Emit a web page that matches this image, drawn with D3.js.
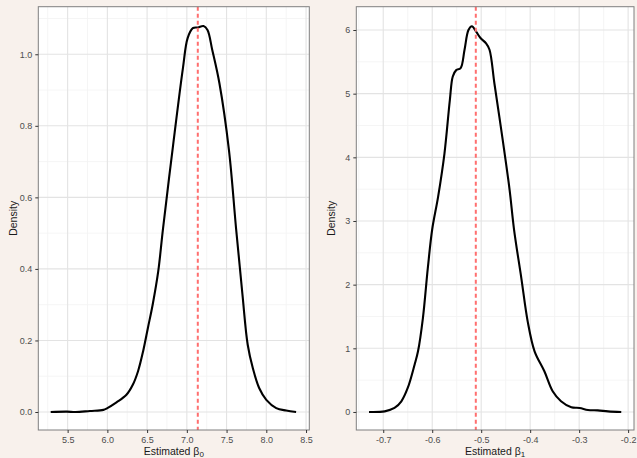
<!DOCTYPE html>
<html lang="en">
  <head>
    <meta charset="UTF-8" />
    <title>Estimated coefficient densities</title>
    <script src="https://d3js.org/d3.v7.min.js"></script>
    <style>
      body {
        margin: 0;
        background: #f8f1ec;
        font-family: 'Liberation Sans', Arial, sans-serif;
      }
      .tick-label {
        font-size: 9px;
        fill: #4d4d4d;
      }
      .axis-title {
        font-size: 10.5px;
        fill: #1a1a1a;
      }
    </style>
  </head>
  <body>
    <svg width="637" height="458"></svg>

    <script>
      // beta0 density
      const b0X = [5.287, 5.49, 5.6, 5.78, 5.95, 6.0, 6.115, 6.24, 6.32, 6.386, 6.45, 6.51, 6.57, 6.64, 6.70, 6.825, 6.95, 7.01, 7.075, 7.14, 7.21, 7.26, 7.32, 7.41, 7.53, 7.62, 7.70, 7.766, 7.83, 7.91, 8.0, 8.125, 8.25, 8.375];
      const b0Y = [0, 0.001, 0, 0.003, 0.006, 0.011, 0.027, 0.048, 0.076, 0.114, 0.17, 0.235, 0.30, 0.393, 0.512, 0.742, 0.96, 1.045, 1.073, 1.075, 1.079, 1.068, 1.012, 0.919, 0.732, 0.512, 0.328, 0.188, 0.123, 0.067, 0.034, 0.011, 0.004, 0];
      // beta1 density
      const b1X = [-0.729, -0.697, -0.677, -0.663, -0.650, -0.636, -0.629, -0.619, -0.609, -0.600, -0.588, -0.575, -0.564, -0.558, -0.551, -0.542, -0.534, -0.526, -0.519, -0.510, -0.501, -0.490, -0.483, -0.473, -0.456, -0.442, -0.433, -0.418, -0.405, -0.391, -0.371, -0.354, -0.337, -0.316, -0.299, -0.282, -0.262, -0.241, -0.214];
      const b1Y = [0, 0.01, 0.063, 0.168, 0.377, 0.743, 0.953, 1.476, 2.26, 2.87, 3.38, 4.06, 4.90, 5.27, 5.37, 5.40, 5.69, 6.0, 6.06, 5.97, 5.87, 5.79, 5.69, 5.16, 4.27, 3.49, 2.87, 2.10, 1.42, 0.953, 0.639, 0.325, 0.168, 0.073, 0.063, 0.031, 0.026, 0.01, 0];

      const b0Mean = 7.138;
      const b1Mean = -0.511;

      const b0XTicks = [5.5, 6.0, 6.5, 7.0, 7.5, 8.0, 8.5];
      const b0YTicks = [0, 0.2, 0.4, 0.6, 0.8, 1.0];
      const b1XTicks = [-0.7, -0.6, -0.5, -0.4, -0.3, -0.2];
      const b1YTicks = [0, 1, 2, 3, 4, 5, 6];

      const svg = d3.select('svg');

      function panel(opt) {
        const g = svg.append('g');
        const x = d3.scaleLinear().domain(opt.xDomain).range([opt.left, opt.right]);
        const y = d3.scaleLinear().domain(opt.yDomain).range([opt.bottom, opt.top]);

        g.append('rect')
          .attr('x', opt.left)
          .attr('y', opt.top)
          .attr('width', opt.right - opt.left)
          .attr('height', opt.bottom - opt.top)
          .attr('fill', 'white');

        // minor grid at midpoints
        const xStep = opt.xTicks[1] - opt.xTicks[0];
        const yStep = opt.yTicks[1] - opt.yTicks[0];
        const xMinor = d3.range(-1, opt.xTicks.length)
          .map((i) => opt.xTicks[0] + (i + 0.5) * xStep)
          .filter((v) => v > opt.xDomain[0] && v < opt.xDomain[1]);
        const yMinor = d3.range(-1, opt.yTicks.length)
          .map((i) => opt.yTicks[0] + (i + 0.5) * yStep)
          .filter((v) => v > opt.yDomain[0] && v < opt.yDomain[1]);

        g.selectAll('.vminor').data(xMinor).enter().append('line')
          .attr('x1', (d) => x(d)).attr('x2', (d) => x(d))
          .attr('y1', opt.top).attr('y2', opt.bottom)
          .attr('stroke', '#f3f3f3').attr('stroke-width', 0.8);
        g.selectAll('.hminor').data(yMinor).enter().append('line')
          .attr('y1', (d) => y(d)).attr('y2', (d) => y(d))
          .attr('x1', opt.left).attr('x2', opt.right)
          .attr('stroke', '#f3f3f3').attr('stroke-width', 0.8);

        g.selectAll('.vmajor').data(opt.xTicks).enter().append('line')
          .attr('x1', (d) => x(d)).attr('x2', (d) => x(d))
          .attr('y1', opt.top).attr('y2', opt.bottom)
          .attr('stroke', '#e3e3e3').attr('stroke-width', 1.1);
        g.selectAll('.hmajor').data(opt.yTicks).enter().append('line')
          .attr('y1', (d) => y(d)).attr('y2', (d) => y(d))
          .attr('x1', opt.left).attr('x2', opt.right)
          .attr('stroke', '#e3e3e3').attr('stroke-width', 1.1);

        // density curve
        const pts = opt.xs.map((v, i) => [v, opt.ys[i]]);
        g.append('path')
          .datum(pts)
          .attr('fill', 'none')
          .attr('stroke', 'black')
          .attr('stroke-width', 2.1)
          .attr('stroke-linejoin', 'round')
          .attr('d', d3.line()
            .x((d) => x(d[0]))
            .y((d) => y(d[1]))
            .curve(d3.curveCatmullRom.alpha(0.5)));

        // mean line
        g.append('line')
          .attr('x1', x(opt.mean)).attr('x2', x(opt.mean))
          .attr('y1', opt.top).attr('y2', opt.bottom)
          .attr('stroke', '#ff6f6f')
          .attr('stroke-width', 2)
          .attr('stroke-dasharray', '4,3');

        // border
        g.append('rect')
          .attr('x', opt.left)
          .attr('y', opt.top)
          .attr('width', opt.right - opt.left)
          .attr('height', opt.bottom - opt.top)
          .attr('fill', 'none')
          .attr('stroke', '#7f7f7f')
          .attr('stroke-width', 1);

        // axes
        const xAxis = g.append('g')
          .attr('transform', `translate(0,${opt.bottom})`)
          .call(d3.axisBottom(x).tickValues(opt.xTicks).tickFormat(opt.xFmt).tickSize(3).tickPadding(4));
        const yAxis = g.append('g')
          .attr('transform', `translate(${opt.left},0)`)
          .call(d3.axisLeft(y).tickValues(opt.yTicks).tickFormat(opt.yFmt).tickSize(3).tickPadding(3));
        [xAxis, yAxis].forEach((a) => {
          a.select('.domain').remove();
          a.selectAll('.tick line').attr('stroke', '#333');
          a.selectAll('.tick text').attr('class', 'tick-label').attr('font-size', null).attr('font-family', null);
        });

        // titles
        g.append('text')
          .attr('class', 'axis-title')
          .attr('transform', 'rotate(-90)')
          .attr('x', -(opt.top + opt.bottom) / 2)
          .attr('y', opt.titleX)
          .attr('text-anchor', 'middle')
          .text('Density');

        const t = g.append('text')
          .attr('class', 'axis-title')
          .attr('x', (opt.left + opt.right) / 2)
          .attr('y', 454.5)
          .attr('text-anchor', 'middle');
        t.append('tspan').text('Estimated \u03b2');
        t.append('tspan').attr('dy', 2).attr('font-size', '8px').text(opt.sub);
      }

      panel({
        left: 38.3, right: 309.3, top: 6.7, bottom: 430,
        xDomain: [5.131, 8.541], yDomain: [-0.0503, 1.133],
        xTicks: b0XTicks, yTicks: b0YTicks,
        xFmt: d3.format('.1f'), yFmt: d3.format('.1f'),
        xs: b0X, ys: b0Y, mean: b0Mean, sub: '0', titleX: 17
      });

      panel({
        left: 356.3, right: 634, top: 6.7, bottom: 430,
        xDomain: [-0.755, -0.188], yDomain: [-0.283, 6.366],
        xTicks: b1XTicks, yTicks: b1YTicks,
        xFmt: (d) => d3.format('.1f')(d).replace('\u2212', '-'), yFmt: d3.format('d'),
        xs: b1X, ys: b1Y, mean: b1Mean, sub: '1', titleX: 335
      });
    </script>
  </body>
</html>
